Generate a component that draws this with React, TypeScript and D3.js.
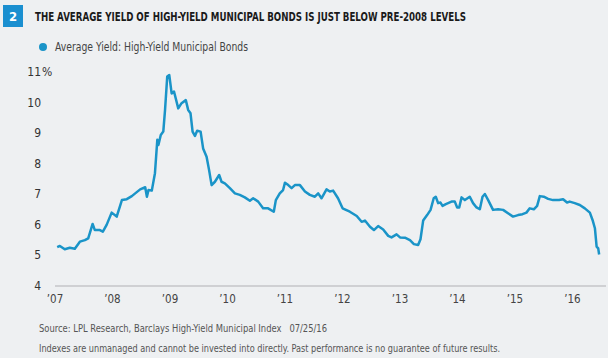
import React, { useEffect, useRef } from 'react';
import * as d3 from 'd3';

// weekly-ish readings
const dates = [
  '2007-01-15', '2007-02-01', '2007-03-04', '2007-04-05', '2007-05-07', '2007-06-08', '2007-07-10', '2007-07-31',
  '2007-08-28', '2007-09-11', '2007-10-13', '2007-11-01', '2007-11-25', '2007-12-27', '2008-01-28', '2008-03-01',
  '2008-04-01', '2008-05-03', '2008-06-25', '2008-07-27', '2008-08-07', '2008-08-17', '2008-09-07', '2008-09-27',
  '2008-10-12', '2008-10-19', '2008-11-03', '2008-11-19', '2008-11-30', '2008-12-14', '2008-12-27', '2009-01-11',
  '2009-01-26', '2009-02-22', '2009-03-15', '2009-04-11', '2009-04-26', '2009-05-11', '2009-05-24', '2009-06-08',
  '2009-06-22', '2009-07-14', '2009-07-30', '2009-08-21', '2009-09-06', '2009-09-22', '2009-10-13', '2009-11-09',
  '2009-11-24', '2009-12-15', '2010-01-16', '2010-02-17', '2010-03-20', '2010-04-21', '2010-05-23', '2010-06-13',
  '2010-07-15', '2010-08-15', '2010-09-16', '2010-10-22', '2010-11-04', '2010-11-29', '2010-12-20', '2011-01-01',
  '2011-01-22', '2011-02-12', '2011-03-05', '2011-04-06', '2011-05-08', '2011-06-08', '2011-07-10', '2011-07-31',
  '2011-08-21', '2011-09-22', '2011-10-13', '2011-11-03', '2011-12-04', '2012-01-02', '2012-02-17', '2012-04-01',
  '2012-05-02', '2012-05-23', '2012-06-24', '2012-07-19', '2012-08-15', '2012-09-16', '2012-10-18', '2012-11-08',
  '2012-12-10', '2013-01-01', '2013-02-01', '2013-03-05', '2013-03-30', '2013-04-26', '2013-05-11', '2013-05-28',
  '2013-06-22', '2013-07-14', '2013-08-03', '2013-08-16', '2013-08-31', '2013-09-15', '2013-09-28', '2013-10-19',
  '2013-11-24', '2013-12-15', '2013-12-30', '2014-01-12', '2014-01-27', '2014-02-17', '2014-03-20', '2014-04-10',
  '2014-05-02', '2014-05-23', '2014-06-09', '2014-06-24', '2014-07-15', '2014-08-15', '2014-09-16', '2014-10-18',
  '2014-11-18', '2014-12-20', '2015-01-21', '2015-02-18', '2015-03-15', '2015-04-05', '2015-05-01', '2015-05-22',
  '2015-06-08', '2015-07-03', '2015-07-31', '2015-08-31', '2015-10-08', '2015-11-03', '2015-11-28', '2015-12-15',
  '2016-01-16', '2016-02-17', '2016-03-20', '2016-04-21', '2016-05-08', '2016-05-23', '2016-06-03', '2016-06-13',
  '2016-06-19',
];

const yields = [
  5.27, 5.31, 5.2, 5.25, 5.22, 5.45, 5.5, 5.56,
  6.03, 5.83, 5.83, 5.78, 6.0, 6.4, 6.27, 6.81,
  6.84, 6.94, 7.16, 7.23, 6.92, 7.14, 7.12, 7.69,
  8.78, 8.61, 8.94, 9.05, 9.75, 10.85, 10.9, 10.3,
  10.36, 9.81, 9.98, 10.08, 9.76, 9.65, 9.05, 8.91,
  9.08, 9.05, 8.5, 8.23, 7.79, 7.3, 7.41, 7.63,
  7.41, 7.36, 7.2, 7.03, 6.98, 6.9, 6.79, 6.87,
  6.76, 6.54, 6.54, 6.43, 6.81, 7.03, 7.14, 7.38,
  7.3, 7.2, 7.3, 7.3, 7.09, 6.98, 6.92, 7.03,
  6.87, 7.16, 7.09, 7.12, 6.87, 6.54, 6.43, 6.29,
  6.1, 6.14, 5.94, 5.83, 5.96, 5.85, 5.64, 5.59,
  5.69, 5.59, 5.58, 5.5, 5.37, 5.34, 5.53, 6.14,
  6.32, 6.49, 6.87, 6.92, 6.71, 6.73, 6.62, 6.68,
  6.76, 6.76, 6.57, 6.57, 6.9, 6.81, 6.92, 6.71,
  6.57, 6.51, 6.92, 7.01, 6.81, 6.49, 6.51, 6.49,
  6.38, 6.27, 6.32, 6.35, 6.4, 6.54, 6.51, 6.62,
  6.94, 6.92, 6.85, 6.81, 6.81, 6.84, 6.73, 6.76,
  6.71, 6.65, 6.54, 6.4, 6.16, 5.89, 5.29, 5.23,
  5.03,
];

const yTicks = [4, 5, 6, 7, 8, 9, 10, 11];
const xTickYears = [2007, 2008, 2009, 2010, 2011, 2012, 2013, 2014, 2015, 2016];

const title = 'THE AVERAGE YIELD OF HIGH-YIELD MUNICIPAL BONDS IS JUST BELOW PRE-2008 LEVELS';
const legendLabel = 'Average Yield: High-Yield Municipal Bonds';
const sourceNote = 'Source: LPL Research, Barclays High-Yield Municipal Index   07/25/16';
const disclaimer = 'Indexes are unmanaged and cannot be invested into directly. Past performance is no guarantee of future results.';

const W = 608;
const H = 358;
const BLUE = '#1a94c8';
const FONT = '"DejaVu Sans Condensed", "Liberation Sans Narrow", sans-serif';

export default function App() {
  const ref = useRef<SVGSVGElement>(null);

  useEffect(() => {
    const svg = d3.select(ref.current);
    svg.selectAll('*').remove();

    const parse = d3.timeParse('%Y-%m-%d');
    const data = dates.map((d, i) => ({ date: parse(d) as Date, value: yields[i] }));

    const x = d3.scaleTime()
      .domain([new Date(2007, 0, 1), new Date(2017, 0, 1)])
      .range([55, 630]);
    const y = d3.scaleLinear().domain([4, 11]).range([286, 72]);

    svg.append('rect').attr('width', W).attr('height', H).attr('fill', '#eef0f2');

    // header
    svg.append('rect').attr('x', 3).attr('y', 5).attr('width', 20).attr('height', 22).attr('fill', '#1a8fd0');
    svg.append('text').attr('x', 13).attr('y', 21).attr('text-anchor', 'middle')
      .attr('fill', 'white').attr('font-weight', 'bold').attr('font-size', 13).attr('font-family', FONT)
      .text('2');
    svg.append('text').attr('x', 35).attr('y', 21)
      .attr('fill', '#1a1a1a').attr('font-weight', 'bold').attr('font-size', 11.5).attr('font-family', FONT)
      .attr('textLength', 431).attr('lengthAdjust', 'spacingAndGlyphs')
      .text(title);

    // legend
    svg.append('circle').attr('cx', 43).attr('cy', 47).attr('r', 4).attr('fill', BLUE);
    svg.append('text').attr('x', 55).attr('y', 51)
      .attr('fill', '#444').attr('font-size', 12).attr('font-family', FONT)
      .attr('textLength', 193).attr('lengthAdjust', 'spacingAndGlyphs')
      .text(legendLabel);

    // y labels
    const yg = svg.append('g').attr('font-family', FONT).attr('font-size', 12).attr('fill', '#333');
    yTicks.forEach(t => {
      yg.append('text').attr('x', 41).attr('y', y(t) + 4).attr('text-anchor', 'end').text(t);
    });
    yg.append('text').attr('x', 42).attr('y', y(11) + 4).text('%');

    // baseline
    svg.append('line')
      .attr('x1', x(new Date(2007, 0, 1))).attr('x2', 606)
      .attr('y1', y(4)).attr('y2', y(4))
      .attr('stroke', '#c4c6c8').attr('stroke-width', 1.5);

    // x labels
    const xg = svg.append('g').attr('font-family', FONT).attr('font-size', 11.5).attr('fill', '#444');
    xTickYears.forEach(yr => {
      xg.append('text').attr('x', x(new Date(yr, 0, 1))).attr('y', 303).attr('text-anchor', 'middle')
        .text('\u2019' + String(yr).slice(2));
    });

    const line = d3.line<{ date: Date; value: number }>()
      .x(d => x(d.date))
      .y(d => y(d.value));
    svg.append('path').datum(data)
      .attr('d', line)
      .attr('fill', 'none')
      .attr('stroke', BLUE)
      .attr('stroke-width', 2.5)
      .attr('stroke-linejoin', 'round');

    // footnotes
    svg.append('text').attr('x', 39).attr('y', 332)
      .attr('fill', '#555').attr('font-size', 11).attr('font-family', FONT)
      .attr('textLength', 288).attr('lengthAdjust', 'spacingAndGlyphs')
      .style('white-space', 'pre')
      .text(sourceNote);
    svg.append('text').attr('x', 39).attr('y', 352)
      .attr('fill', '#555').attr('font-size', 11).attr('font-family', FONT)
      .attr('textLength', 461).attr('lengthAdjust', 'spacingAndGlyphs')
      .text(disclaimer);
  }, []);

  return (
    <svg ref={ref} width={W} height={H}
      style={{ position: 'absolute', left: 0, top: 0, display: 'block' }} />
  );
}
